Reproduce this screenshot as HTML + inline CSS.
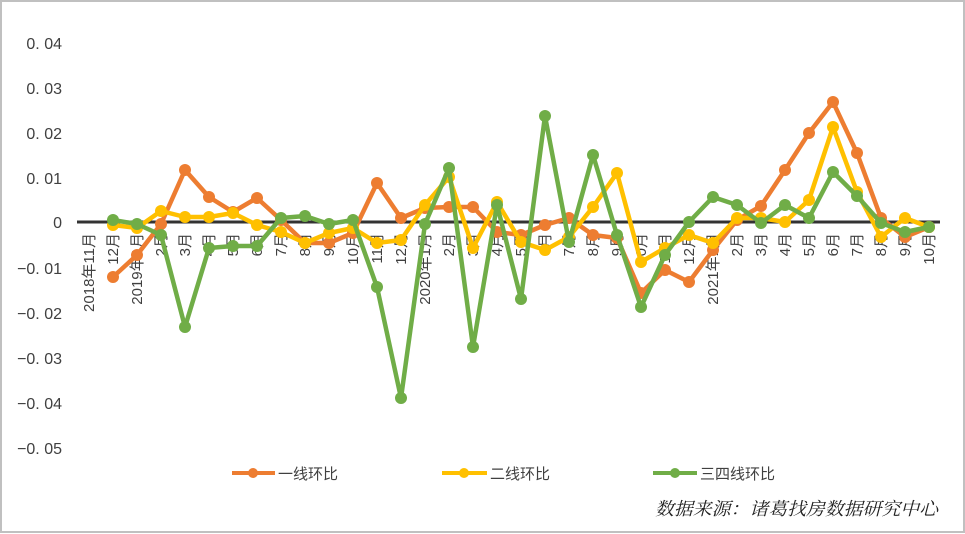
<!DOCTYPE html>
<html><head><meta charset="utf-8"><style>
html,body{margin:0;padding:0;background:#fff;}
svg{display:block;}
</style></head><body>
<svg id="c" width="965" height="534" xmlns="http://www.w3.org/2000/svg">
<rect x="1" y="1" width="963" height="531" fill="#fff" stroke="#c0c0c0" stroke-width="2"/>
<g font-family="Liberation Sans, sans-serif" font-size="16" fill="#404040" text-anchor="end">
<text x="62" y="49">0. 04</text>
<text x="62" y="94">0. 03</text>
<text x="62" y="139">0. 02</text>
<text x="62" y="184">0. 01</text>
<text x="62" y="228">0</text>
<text x="62" y="274">−0. 01</text>
<text x="62" y="319">−0. 02</text>
<text x="62" y="364">−0. 03</text>
<text x="62" y="409">−0. 04</text>
<text x="62" y="454">−0. 05</text>
</g>
<line x1="77" y1="222" x2="940" y2="222" stroke="#333" stroke-width="3"/>
<g id="xl" font-family="Liberation Sans, 'Noto Sans CJK SC', sans-serif" font-size="15" fill="#404040" text-anchor="end"></g>
<g id="series"></g>
<g font-family="'Noto Sans CJK SC', sans-serif" font-size="15" fill="#404040">
<line x1="232" y1="473" x2="275" y2="473" stroke="#ED7D31" stroke-width="4"/><circle cx="253" cy="473" r="5" fill="#ED7D31"/>
<text x="278" y="479">一线环比</text>
<line x1="442" y1="473" x2="487" y2="473" stroke="#FFC000" stroke-width="4"/><circle cx="464" cy="473" r="5" fill="#FFC000"/>
<text x="490" y="479">二线环比</text>
<line x1="653" y1="473" x2="697" y2="473" stroke="#70AD47" stroke-width="4"/><circle cx="675" cy="473" r="5" fill="#70AD47"/>
<text x="700" y="479">三四线环比</text>
</g>
<text x="655" y="515" font-family="'Noto Serif CJK SC', 'Noto Sans CJK SC', serif" font-style="italic" font-size="18" fill="#222" textLength="283" lengthAdjust="spacingAndGlyphs">数据来源：诸葛找房数据研究中心</text>
</svg>
<script>
var ns="http://www.w3.org/2000/svg";
var O=[277,255,224,170,197,212,198,220,243,243,233,183,218,208,207,207,232,235,225,218,235,238,293,270,282,250,220,206,170,133,102,153,218,237,227];
var Y=[225,228,211,217,217,213,225,232,243,233,228,243,240,205,177,248,202,242,250,237,207,173,262,248,235,243,218,218,222,200,127,192,237,218,227];
var G=[220,224,235,327,248,246,246,218,216,224,220,287,398,224,168,347,205,299,116,242,155,235,307,255,222,197,205,223,205,218,172,196,223,232,227];
var s=document.getElementById("series");
function draw(d,c){var p=d.map(function(v,i){return (113+24*i)+","+v;}).join(" ");
var pl=document.createElementNS(ns,"polyline");pl.setAttribute("points",p);pl.setAttribute("fill","none");pl.setAttribute("stroke",c);pl.setAttribute("stroke-width","4.5");pl.setAttribute("stroke-linejoin","round");s.appendChild(pl);
d.forEach(function(v,i){var ci=document.createElementNS(ns,"circle");ci.setAttribute("cx",113+24*i);ci.setAttribute("cy",v);ci.setAttribute("r","6");ci.setAttribute("fill",c);s.appendChild(ci);});}
draw(O,"#ED7D31");draw(Y,"#FFC000");draw(G,"#70AD47");
var labels=["2018年11月","12月"];
for(var m=1;m<=12;m++)labels.push(m==1?"2019年1月":m+"月");
for(var m=1;m<=12;m++)labels.push(m==1?"2020年1月":m+"月");
for(var m=1;m<=10;m++)labels.push(m==1?"2021年1月":m+"月");
var xl=document.getElementById("xl");
labels.forEach(function(t,i){var x=89+24*i;var tx=document.createElementNS(ns,"text");
tx.setAttribute("transform","translate("+(x+5)+",233) rotate(-90)");tx.textContent=t;xl.appendChild(tx);});
</script>
</body></html>
